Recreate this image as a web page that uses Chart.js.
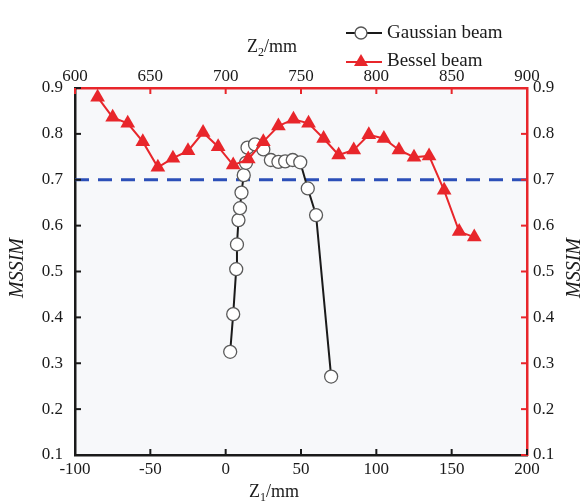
<!DOCTYPE html>
<html>
<head>
<meta charset="utf-8">
<script src="https://cdn.jsdelivr.net/npm/chart.js@4.4.1/dist/chart.umd.min.js"></script>
<style>
  body { margin: 0; background: #ffffff; }
  canvas { display: block; }
</style>
</head>
<body>
<canvas id="mssimChart" width="585" height="501"></canvas>
<script>
// Gaussian beam, plotted against bottom axis (Z1/mm)
const gaussZ1 = [3, 5, 7, 7.5, 8.5, 9.5, 10.5, 12, 13.5, 14.5, 19.5, 25, 30, 35, 39.5, 44.5, 49.5, 54.5, 60, 70];
const gaussMssim = [0.325, 0.407, 0.505, 0.559, 0.612, 0.638, 0.672, 0.710, 0.737, 0.770, 0.777, 0.766, 0.743, 0.739, 0.740, 0.743, 0.738, 0.681, 0.623, 0.271];

// Bessel beam, plotted against top axis (Z2/mm)
const besselZ2 = [615, 625, 635, 645, 655, 665, 675, 685, 695, 705, 715, 725, 735, 745, 755, 765, 775, 785, 795, 805, 815, 825, 835, 845, 855, 865];
const besselMssim = [0.880, 0.836, 0.823, 0.783, 0.727, 0.747, 0.763, 0.803, 0.772, 0.732, 0.745, 0.783, 0.817, 0.832, 0.823, 0.790, 0.754, 0.765, 0.798, 0.790, 0.765, 0.749, 0.752, 0.677, 0.587, 0.575];

const threshold = 0.7;
const z1Range = [-100, 200];
const z2Range = [600, 900];
const mssimRange = [0.1, 0.9];

const SERIF = '"Liberation Serif", "Times New Roman", serif';
const RED = '#e8262b';
const BLACK = '#1a1a1a';

// plot background + inward tick marks + titles + legend
const decorations = {
    id: 'decorations',
    beforeDraw(chart) {
        const { ctx, chartArea: a } = chart;
        ctx.save();
        ctx.fillStyle = '#f7f8fa';
        ctx.fillRect(a.left, a.top, a.right - a.left, a.bottom - a.top);
        ctx.restore();
    },
    afterDraw(chart) {
        const { ctx, chartArea: a, scales } = chart;
        ctx.save();
        ctx.lineWidth = 2;
        const len = 6;

        // left ticks (black), right ticks (red)
        scales.y.ticks.forEach(t => {
            const py = scales.y.getPixelForValue(t.value);
            ctx.strokeStyle = BLACK;
            ctx.beginPath(); ctx.moveTo(a.left, py); ctx.lineTo(a.left + len, py); ctx.stroke();
            ctx.strokeStyle = RED;
            ctx.beginPath(); ctx.moveTo(a.right, py); ctx.lineTo(a.right - len, py); ctx.stroke();
        });
        // bottom ticks (black)
        ctx.strokeStyle = BLACK;
        scales.x.ticks.forEach(t => {
            const px = scales.x.getPixelForValue(t.value);
            ctx.beginPath(); ctx.moveTo(px, a.bottom); ctx.lineTo(px, a.bottom - len); ctx.stroke();
        });
        // top ticks (red)
        ctx.strokeStyle = RED;
        scales.x2.ticks.forEach(t => {
            const px = scales.x2.getPixelForValue(t.value);
            ctx.beginPath(); ctx.moveTo(px, a.top); ctx.lineTo(px, a.top + len); ctx.stroke();
        });

        // axis titles with subscripts
        ctx.fillStyle = BLACK;
        ctx.textBaseline = 'alphabetic';
        const subTitle = (x, y, sub) => {
            ctx.textAlign = 'left';
            ctx.font = `18px ${SERIF}`;
            ctx.fillText('Z', x, y);
            let w = ctx.measureText('Z').width;
            ctx.font = `12px ${SERIF}`;
            ctx.fillText(sub, x + w, y + 4);
            w += ctx.measureText(sub).width;
            ctx.font = `18px ${SERIF}`;
            ctx.fillText('/mm', x + w, y);
        };
        subTitle(247, 52, '2');
        subTitle(249, 497, '1');

        const vTitle = (x, y) => {
            ctx.save();
            ctx.translate(x, y);
            ctx.rotate(-Math.PI / 2);
            ctx.textAlign = 'center';
            ctx.textBaseline = 'middle';
            ctx.font = `italic 20px ${SERIF}`;
            ctx.fillText('MSSIM', 0, 0);
            ctx.restore();
        };
        vTitle(18, 268);
        vTitle(575, 268);

        // legend
        ctx.font = `19px ${SERIF}`;
        ctx.textAlign = 'left';
        ctx.textBaseline = 'middle';
        ctx.lineWidth = 2;
        ctx.strokeStyle = BLACK;
        ctx.beginPath(); ctx.moveTo(346, 33); ctx.lineTo(382, 33); ctx.stroke();
        ctx.beginPath(); ctx.arc(361, 33, 6, 0, Math.PI * 2);
        ctx.fillStyle = '#ffffff'; ctx.fill();
        ctx.lineWidth = 1.3; ctx.strokeStyle = '#555555'; ctx.stroke();
        ctx.fillStyle = BLACK;
        ctx.fillText('Gaussian beam', 387, 33);

        ctx.lineWidth = 2;
        ctx.strokeStyle = RED;
        ctx.beginPath(); ctx.moveTo(346, 62); ctx.lineTo(382, 62); ctx.stroke();
        ctx.fillStyle = RED;
        ctx.beginPath(); ctx.moveTo(361, 54); ctx.lineTo(368, 66); ctx.lineTo(354, 66); ctx.closePath(); ctx.fill();
        ctx.fillStyle = BLACK;
        ctx.fillText('Bessel beam', 387, 61);
        ctx.restore();
    }
};

const tickFont = { family: SERIF, size: 17 };

new Chart(document.getElementById('mssimChart').getContext('2d'), {
    type: 'line',
    data: {
        datasets: [
            {
                label: 'Bessel beam',
                data: besselZ2.map((z, i) => ({ x: z, y: besselMssim[i] })),
                xAxisID: 'x2',
                yAxisID: 'y',
                borderColor: RED,
                backgroundColor: RED,
                borderWidth: 2,
                pointStyle: 'triangle',
                pointRadius: 8.5,
                pointBorderWidth: 0,
                order: 1
            },
            {
                label: 'Gaussian beam',
                data: gaussZ1.map((z, i) => ({ x: z, y: gaussMssim[i] })),
                xAxisID: 'x',
                yAxisID: 'y',
                borderColor: BLACK,
                borderWidth: 2,
                pointBackgroundColor: '#ffffff',
                pointBorderColor: '#5a5a5a',
                pointBorderWidth: 1.3,
                pointRadius: 6.5,
                order: 2
            },
            {
                label: 'threshold',
                data: [{ x: z1Range[0], y: threshold }, { x: z1Range[1], y: threshold }],
                xAxisID: 'x',
                yAxisID: 'y',
                borderColor: '#2c4fb8',
                borderWidth: 3,
                borderDash: [14, 9],
                pointRadius: 0,
                order: 3
            }
        ]
    },
    options: {
        responsive: false,
        animation: false,
        layout: { padding: 0 },
        plugins: {
            legend: { display: false },
            tooltip: { enabled: false }
        },
        scales: {
            x: {
                type: 'linear',
                position: 'bottom',
                min: z1Range[0],
                max: z1Range[1],
                afterFit: s => { s.height = 46; },
                grid: { display: false, drawTicks: false },
                border: { display: true, color: BLACK, width: 2.5 },
                ticks: { stepSize: 50, color: BLACK, font: tickFont, padding: 4, maxRotation: 0 }
            },
            x2: {
                type: 'linear',
                position: 'top',
                min: z2Range[0],
                max: z2Range[1],
                afterFit: s => { s.height = 88; },
                grid: { display: false, drawTicks: false },
                border: { display: true, color: RED, width: 2.5 },
                ticks: { stepSize: 50, color: BLACK, font: tickFont, padding: 1, maxRotation: 0 }
            },
            y: {
                type: 'linear',
                position: 'left',
                min: mssimRange[0],
                max: mssimRange[1],
                afterFit: s => { s.width = 75; },
                grid: { display: false, drawTicks: false },
                border: { display: true, color: BLACK, width: 2.5 },
                ticks: { stepSize: 0.1, color: BLACK, font: tickFont, padding: 12, callback: v => v.toFixed(1) }
            },
            y2: {
                type: 'linear',
                position: 'right',
                min: mssimRange[0],
                max: mssimRange[1],
                afterFit: s => { s.width = 58; },
                grid: { display: false, drawTicks: false },
                border: { display: true, color: RED, width: 2.5 },
                ticks: { stepSize: 0.1, color: BLACK, font: tickFont, padding: 6, callback: v => v.toFixed(1) }
            }
        }
    },
    plugins: [decorations]
});
</script>
</body>
</html>
